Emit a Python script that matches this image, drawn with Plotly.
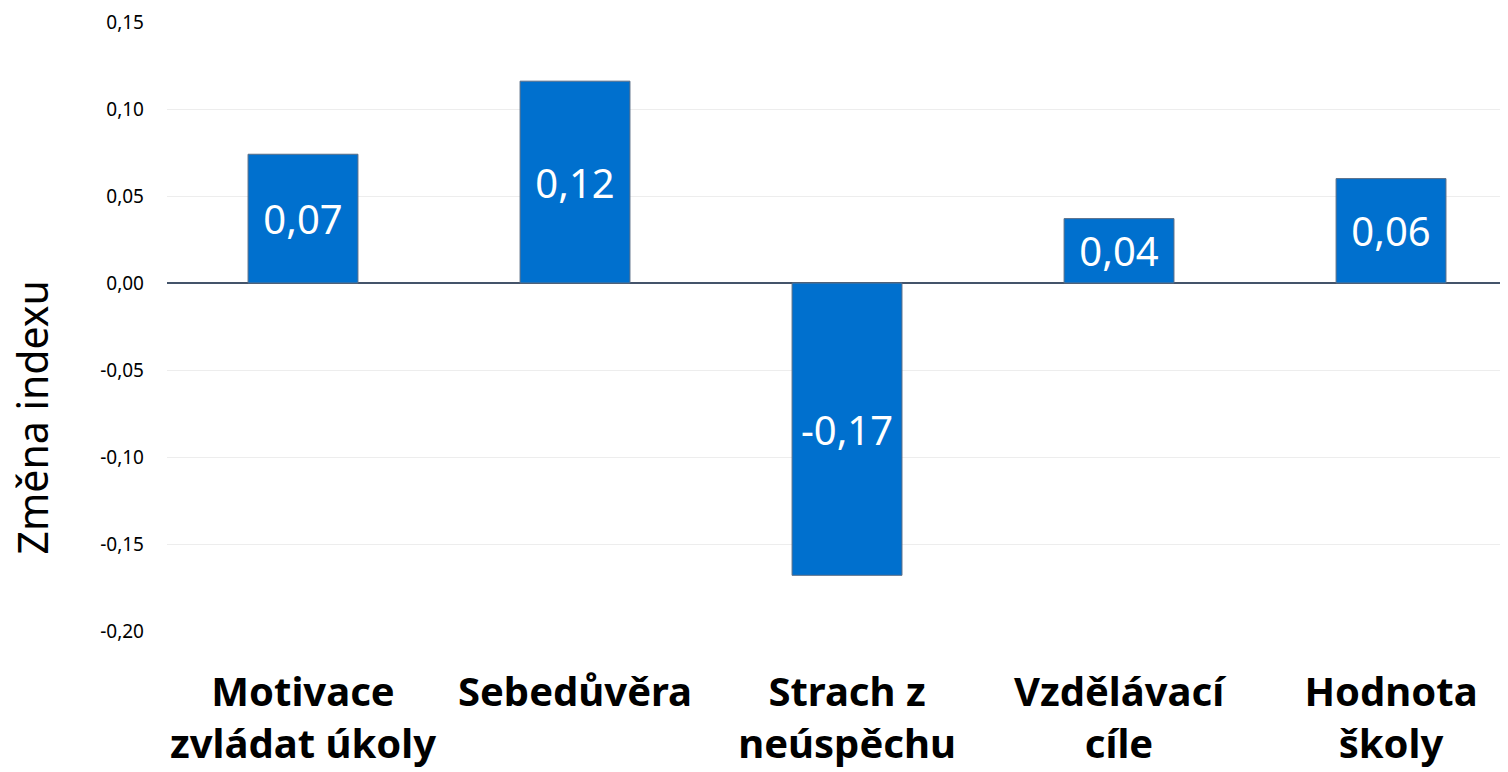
import plotly.graph_objects as go

categories = ["Motivace<br>zvládat úkoly", "Sebedůvěra", "Strach z<br>neúspěchu", "Vzdělávací<br>cíle", "Hodnota<br>školy"]
values = [0.074, 0.116, -0.168, 0.037, 0.060]
labels = ["0,07", "0,12", "-0,17", "0,04", "0,06"]
y_ticks = [-0.20, -0.15, -0.10, -0.05, 0.00, 0.05, 0.10, 0.15]
y_tick_text = ["-0,20", "-0,15", "-0,10", "-0,05", "0,00", "0,05", "0,10", "0,15"]
y_title = "Změna indexu"

FONT = "Noto Sans"
x_idx = list(range(len(categories)))

fig = go.Figure(go.Bar(
    x=x_idx, y=values, width=0.404,
    marker=dict(color="#0070CE", line=dict(color="#5B6E86", width=1)),
    text=labels, textposition="inside", insidetextanchor="middle",
    textangle=0, constraintext="none",
    textfont=dict(family=FONT, size=40, color="white"),
    hoverinfo="skip",
))

fig.update_layout(
    width=1500, height=764,
    margin=dict(l=159, r=0, t=14, b=141),
    plot_bgcolor="white", paper_bgcolor="white",
    showlegend=False,
    font=dict(family=FONT, color="black"),
    xaxis=dict(
        range=[-0.5, 4.43], tickmode="array", tickvals=x_idx, ticktext=categories,
        tickfont=dict(family=FONT, size=40, color="black", weight="bold"),
        showgrid=False, zeroline=False, showline=False, ticks="",
        ticklabelstandoff=34, automargin=False,
    ),
    yaxis=dict(
        range=[-0.20, 0.15], tickmode="array", tickvals=y_ticks, ticktext=y_tick_text,
        tickfont=dict(family=FONT, size=19, color="black"),
        showgrid=True, gridcolor="#EDEDED", gridwidth=1,
        zeroline=True, zerolinecolor="#44546A", zerolinewidth=2,
        showline=False, ticks="", ticklabelstandoff=22, automargin=False,
    ),
    annotations=[dict(
        text=y_title, textangle=-90, xref="paper", yref="paper",
        x=-0.1005, y=0.351, xanchor="center", yanchor="middle", showarrow=False,
        font=dict(family=FONT, size=41, color="black"),
    )],
)

fig.write_html("out.html")
